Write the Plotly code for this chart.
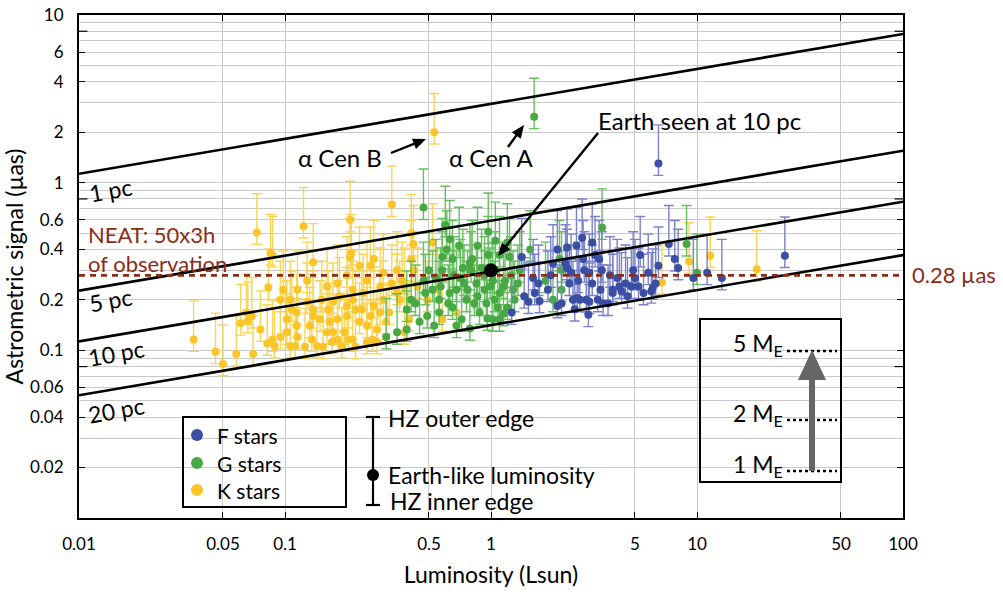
import math
import plotly.graph_objects as go

# ---------------- data ----------------
# K stars: luminosity (Lsun) and astrometric signal (uas)
K_L = [0.036, 0.046, 0.050, 0.058, 0.070, 0.061, 0.066, 0.073, 0.069, 0.085,
       0.083, 0.087, 0.089, 0.102, 0.106, 0.114, 0.123, 0.115, 0.125, 0.137,
       0.137, 0.143, 0.160, 0.180, 0.180, 0.200, 0.207, 0.210, 0.213, 0.236,
       0.250, 0.260, 0.265, 0.290, 0.300, 0.330, 0.310, 0.098, 0.160, 0.106,
       0.171, 0.082, 0.095, 0.108, 0.102, 0.115, 0.128, 0.132, 0.148, 0.151,
       0.162, 0.171, 0.184, 0.194, 0.213, 0.230, 0.240, 0.270, 0.280, 0.290,
       0.300, 0.320, 0.330, 0.360, 0.076, 0.065, 0.230, 0.200, 0.270, 0.350,
       0.410, 0.420, 0.410, 0.420, 0.380, 0.380, 0.520, 0.580, 0.370, 0.440,
       0.490, 0.550, 0.680, 0.400, 0.530, 0.207, 0.087, 6.76, 9.15, 11.6, 19.5,
       0.095, 0.112, 0.135, 0.153, 0.169, 0.189, 0.203, 0.220, 0.250, 0.280,
       0.114, 0.137, 0.165, 0.200, 0.220, 0.260, 0.310, 0.350, 0.128, 0.180,
       0.213, 0.250]
K_sig = [0.116, 0.098, 0.083, 0.095, 0.095, 0.145, 0.150, 0.505, 0.160, 0.380,
         0.237, 0.116, 0.106, 0.153, 0.106, 0.140, 0.550, 0.120, 0.105, 0.335,
         0.175, 0.106, 0.128, 0.153, 0.116, 0.160, 0.600, 0.380, 0.116, 0.175,
         0.140, 0.320, 0.116, 0.168, 0.290, 0.740, 0.120, 0.230, 0.240, 0.200,
         0.195, 0.110, 0.200, 0.175, 0.128, 0.230, 0.195, 0.140, 0.153, 0.200,
         0.175, 0.128, 0.210, 0.128, 0.200, 0.148, 0.220, 0.184, 0.133, 0.240,
         0.200, 0.168, 0.250, 0.200, 0.133, 0.168, 0.320, 0.280, 0.350, 0.300,
         0.500, 0.430, 0.350, 0.300, 0.240, 0.128, 0.440, 0.153, 0.260, 0.240,
         0.200, 0.230, 0.168, 0.153, 2.000, 0.360, 0.370, 0.254, 0.339, 0.367, 0.304,
         0.120, 0.106, 0.116, 0.105, 0.112, 0.106, 0.116, 0.105, 0.112, 0.112,
         0.168, 0.160, 0.148, 0.184, 0.175, 0.160, 0.148, 0.220, 0.260, 0.250,
         0.230, 0.260]

# G stars
G_L = [0.47, 0.63, 0.61, 0.65, 0.81, 0.97, 1.23, 1.10, 0.41, 0.47,
       0.52, 0.63, 0.65, 0.76, 0.85, 0.93, 1.02, 1.10, 0.88, 0.72,
       0.56, 0.45, 1.20, 1.02, 0.49, 0.31, 0.35, 0.39, 0.39, 0.79,
       0.70, 0.50, 0.56, 0.66, 0.74, 0.83, 0.93, 1.04, 1.17, 1.30,
       1.38, 0.79, 1.10, 0.58, 0.60, 0.97, 1.55, 1.84, 2.00, 2.20,
       2.20, 2.15, 3.46, 8.9, 10.0, 1.62,
       0.43, 0.48, 0.54, 0.57, 0.62, 0.68, 0.71, 0.77, 0.80, 0.86,
       0.90, 0.95, 0.99, 1.05, 1.08, 1.15, 1.25, 1.28, 1.35, 0.68,
       0.53, 0.96, 1.15, 0.73, 0.58, 0.86, 1.05, 1.20]
G_sig = [0.71, 0.46, 0.40, 0.35, 0.35, 0.37, 0.36, 0.37, 0.20, 0.26,
         0.23, 0.22, 0.18, 0.20, 0.25, 0.23, 0.26, 0.22, 0.168, 0.153,
         0.168, 0.148, 0.18, 0.153, 0.16, 0.12, 0.128, 0.175, 0.133, 0.33,
         0.42, 0.30, 0.20, 0.28, 0.25, 0.19, 0.28, 0.20, 0.26, 0.20,
         0.30, 0.135, 0.153, 0.30, 0.56, 0.51, 0.40, 0.26, 0.20, 0.23,
         0.30, 0.35, 0.54, 0.43, 0.29, 2.47,
         0.19, 0.22, 0.27, 0.24, 0.19, 0.23, 0.27, 0.23, 0.30, 0.21,
         0.31, 0.19, 0.24, 0.30, 0.18, 0.24, 0.28, 0.23, 0.25, 0.14,
         0.14, 0.155, 0.165, 0.31, 0.36, 0.42, 0.45, 0.44]

# F stars
F_L = [6.5, 7.3, 7.8, 8.1, 11.2, 13.2, 9.6, 26.7, 2.34, 2.77,
       2.80, 2.70, 3.10, 3.35, 3.45, 3.78, 4.20, 4.30, 4.90, 4.80,
       5.20, 5.80, 6.00, 6.10, 4.50, 3.90, 2.50, 3.00, 3.30, 1.26,
       1.41, 1.60, 1.63, 1.89, 2.34, 2.62, 2.30, 2.90, 2.10, 1.52,
       1.72, 2.00, 2.40, 2.55, 2.97, 3.50, 3.90, 2.84, 3.20, 5.30, 6.50,
       1.45, 1.70, 1.95, 2.20, 2.45, 2.65, 3.00, 3.40, 3.70, 4.10,
       4.60, 5.00, 5.50, 6.30, 2.10, 2.60, 3.10]
F_sig = [1.30, 0.43, 0.35, 0.31, 0.29, 0.27, 0.27, 0.367, 0.31, 0.47,
         0.35, 0.20, 0.25, 0.35, 0.30, 0.28, 0.24, 0.225, 0.30, 0.24,
         0.24, 0.29, 0.225, 0.237, 0.25, 0.22, 0.20, 0.195, 0.20, 0.168,
         0.36, 0.27, 0.22, 0.23, 0.41, 0.205, 0.33, 0.20, 0.184, 0.195,
         0.197, 0.33, 0.25, 0.176, 0.163, 0.19, 0.23, 0.30, 0.37, 0.37, 0.32,
         0.21, 0.25, 0.28, 0.19, 0.29, 0.26, 0.29, 0.23, 0.19, 0.27,
         0.21, 0.27, 0.22, 0.25, 0.40, 0.42, 0.44]

# habitable-zone edges relative to the Earth-like-luminosity value
HZ_OUTER_RATIO = 1.7
HZ_INNER_RATIO = 0.85

# Distance lines (signal at L = 0.01 and L = 100)
dist_labels = ["1 pc", "5 pc", "10 pc", "20 pc"]
line_L = [0.01, 100]
sig_at_L001 = [1.13, 0.227, 0.113, 0.054]
sig_at_L100 = [7.7, 1.55, 0.77, 0.37]

neat_threshold = 0.28
earth_L, earth_sig = 1.0, 0.30

x_ticks = [0.01, 0.05, 0.1, 0.5, 1, 5, 10, 50, 100]
x_ticktext = ["0.01", "0.05", "0.1", "0.5", "1", "5", "10", "50", "100"]
y_ticks = [10, 6, 4, 2, 1, 0.6, 0.4, 0.2, 0.1, 0.06, 0.04, 0.02]
y_ticktext = ["10", "6", "4", "2", "1", "0.6", "0.4", "0.2", "0.1", "0.06", "0.04", "0.02"]
y_unlabeled_ticks = [8, 0.8, 0.08]
y_minor = [m * 10 ** e for e in (-2, -1, 0) for m in range(1, 10)] + [10]

# ---------------- styling ----------------
FONT = "Lato"
K_PT, K_BAR = "#fbc52a", "#f9d457"
G_PT, G_BAR = "#48a843", "#67bf5f"
F_PT, F_BAR = "#3a4ea3", "#7b82cc"
NEAT_COL = "#8a2c17"

W, H = 1003, 595
PL, PR, PT, PB = 79, 903, 15, 518


def px(x):
    return (x - PL) / (PR - PL)


def py(y):
    return (PB - y) / (PB - PT)


fig = go.Figure()


def star_trace(L, s, pt, bar):
    return go.Scatter(
        x=L, y=s, mode="markers",
        marker=dict(color=pt, size=8, line=dict(width=0)),
        error_y=dict(type="data", symmetric=False,
                     array=[v * (HZ_OUTER_RATIO - 1) for v in s],
                     arrayminus=[v * (1 - HZ_INNER_RATIO) for v in s],
                     color=bar, thickness=1.4, width=5),
        showlegend=False, hoverinfo="skip")


fig.add_trace(star_trace(K_L, K_sig, K_PT, K_BAR))
fig.add_trace(star_trace(G_L, G_sig, G_PT, G_BAR))
fig.add_trace(star_trace(F_L, F_sig, F_PT, F_BAR))

for lab, a, b in zip(dist_labels, sig_at_L001, sig_at_L100):
    fig.add_trace(go.Scatter(x=line_L, y=[a, b], mode="lines",
                             line=dict(color="black", width=2.6),
                             showlegend=False, hoverinfo="skip", name=lab))

fig.add_trace(go.Scatter(x=line_L, y=[neat_threshold, neat_threshold], mode="lines",
                         line=dict(color=NEAT_COL, width=2.6, dash="6px,5px"),
                         showlegend=False, hoverinfo="skip"))

fig.add_trace(go.Scatter(x=[earth_L], y=[earth_sig], mode="markers",
                         marker=dict(color="black", size=14),
                         showlegend=False, hoverinfo="skip"))

# unlabeled inside tick marks on left and right axes (clipped to plot area)
fig.add_trace(go.Scatter(x=[line_L[0]] * 3 + [line_L[1]] * 3,
                         y=y_unlabeled_ticks * 2, mode="markers",
                         marker=dict(symbol="line-ew", size=12,
                                     line=dict(color="black", width=1.2)),
                         cliponaxis=True, showlegend=False, hoverinfo="skip"))

shapes = []
ann = []


def text(x, y, s, size=23, color="black", xanchor="left", angle=0, align="left"):
    ann.append(dict(x=px(x), y=py(y), xref="paper", yref="paper", text=s,
                    showarrow=False, xanchor=xanchor, yanchor="middle", align=align,
                    textangle=angle, font=dict(family=FONT, size=size, color=color)))


def arrow(x0, y0, x1, y1, hl=13, hw=11, lw=2.4):
    dx, dy = x1 - x0, y1 - y0
    d = math.hypot(dx, dy)
    ux, uy = dx / d, dy / d
    bx, by = x1 - ux * hl, y1 - uy * hl
    nx, ny = -uy, ux
    shapes.append(dict(type="line", xref="paper", yref="paper",
                       x0=px(x0), y0=py(y0), x1=px(bx + ux * 2), y1=py(by + uy * 2),
                       line=dict(color="black", width=lw)))
    p = (f"M {px(x1)},{py(y1)} L {px(bx + nx * hw / 2)},{py(by + ny * hw / 2)} "
         f"L {px(bx - nx * hw / 2)},{py(by - ny * hw / 2)} Z")
    shapes.append(dict(type="path", xref="paper", yref="paper", path=p,
                       fillcolor="black", line=dict(width=0)))


# distance labels
text(110, 190, "1 pc", angle=-10, xanchor="center")
text(110, 300, "5 pc", angle=-10, xanchor="center")
text(116, 353, "10 pc", angle=-10, xanchor="center")
text(116, 410, "20 pc", angle=-10, xanchor="center")

# NEAT text
text(86, 249, "NEAT: 50x3h<br>of observation", size=22, color=NEAT_COL)
text(910, 274, "0.28 \u00b5as", size=22, color=NEAT_COL)

# labels with arrows
text(596, 120, "Earth seen at 10 pc", size=24)
arrow(598, 133, 498, 256)
text(296, 158, "\u03b1 Cen B", size=24)
arrow(391, 153, 426, 139)
text(447, 158, "\u03b1 Cen A", size=24)
arrow(508, 147, 524, 125)

# legend box (spectral types)
shapes.append(dict(type="rect", xref="paper", yref="paper", x0=px(183), x1=px(346),
                   y0=py(507), y1=py(417), line=dict(color="black", width=2)))
for cy, col, lab in [(435, F_PT, "F stars"), (463, G_PT, "G stars"), (490, K_PT, "K stars")]:
    shapes.append(dict(type="circle", xref="paper", yref="paper", x0=px(191), x1=px(203),
                       y0=py(cy + 6), y1=py(cy - 6), fillcolor=col, line=dict(width=0)))
    text(215, cy, lab, size=21)

# error bar legend
shapes.append(dict(type="line", xref="paper", yref="paper", x0=px(373), x1=px(373),
                   y0=py(417), y1=py(505), line=dict(color="black", width=2.2)))
for cy in (417, 505):
    shapes.append(dict(type="line", xref="paper", yref="paper", x0=px(366), x1=px(380),
                       y0=py(cy), y1=py(cy), line=dict(color="black", width=2.2)))
shapes.append(dict(type="circle", xref="paper", yref="paper", x0=px(367), x1=px(379),
                   y0=py(481), y1=py(469), fillcolor="black", line=dict(width=0)))
text(386, 418, "HZ outer edge")
text(386, 475, "Earth-like luminosity")
text(388, 501, "HZ inner edge")

# planet-mass box
shapes.append(dict(type="rect", xref="paper", yref="paper", x0=px(700), x1=px(841),
                   y0=py(482), y1=py(319), line=dict(color="black", width=2)))
for ly, tx in [(351, "5 M<sub>E</sub>"), (420, "2 M<sub>E</sub>"), (471, "1 M<sub>E</sub>")]:
    shapes.append(dict(type="line", xref="paper", yref="paper", x0=px(787), x1=px(837),
                       y0=py(ly), y1=py(ly), line=dict(color="black", width=2.4, dash="dot")))
    text(785, ly - 6, tx, size=23, xanchor="right")
shapes.append(dict(type="line", xref="paper", yref="paper", x0=px(812), x1=px(812),
                   y0=py(471), y1=py(376), line=dict(color="#666666", width=6)))
shapes.append(dict(type="path", xref="paper", yref="paper",
                   path=f"M {px(798)},{py(380)} L {px(826)},{py(380)} L {px(812)},{py(350)} Z",
                   fillcolor="#666666", line=dict(width=0)))

axis_common = dict(type="log", showline=True, linecolor="black", linewidth=2,
                   mirror="ticks", ticks="inside", ticklen=6, tickwidth=1.2,
                   tickcolor="black", showgrid=True, gridcolor="#c9c9c9", gridwidth=1,
                   zeroline=False, automargin=False,
                   tickfont=dict(family=FONT, size=17, color="black"))

fig.update_layout(
    width=W, height=H,
    margin=dict(l=PL, r=W - PR, t=PT, b=H - PB, pad=0, autoexpand=False),
    paper_bgcolor="white", plot_bgcolor="white",
    font=dict(family=FONT, color="black"),
    showlegend=False,
    xaxis=dict(axis_common, range=[-2, 2], tickvals=x_ticks, ticktext=x_ticktext,
               ticklabelstandoff=10,
               title=dict(text="Luminosity (Lsun)", font=dict(family=FONT, size=23), standoff=13)),
    yaxis=dict(axis_common, range=[-2, 1], tickvals=y_ticks, ticktext=y_ticktext,
               ticklabelstandoff=10,
               minor=dict(tickvals=y_minor, showgrid=True, gridcolor="#c9c9c9", ticks=""),
               title=dict(text="Astrometric signal (\u00b5as)", font=dict(family=FONT, size=23), standoff=6)),
    shapes=shapes,
    annotations=ann,
)

fig.write_html("out.html", config={"displayModeBar": False},
               post_script="document.body.style.margin='0px';document.body.style.overflow='hidden';")
